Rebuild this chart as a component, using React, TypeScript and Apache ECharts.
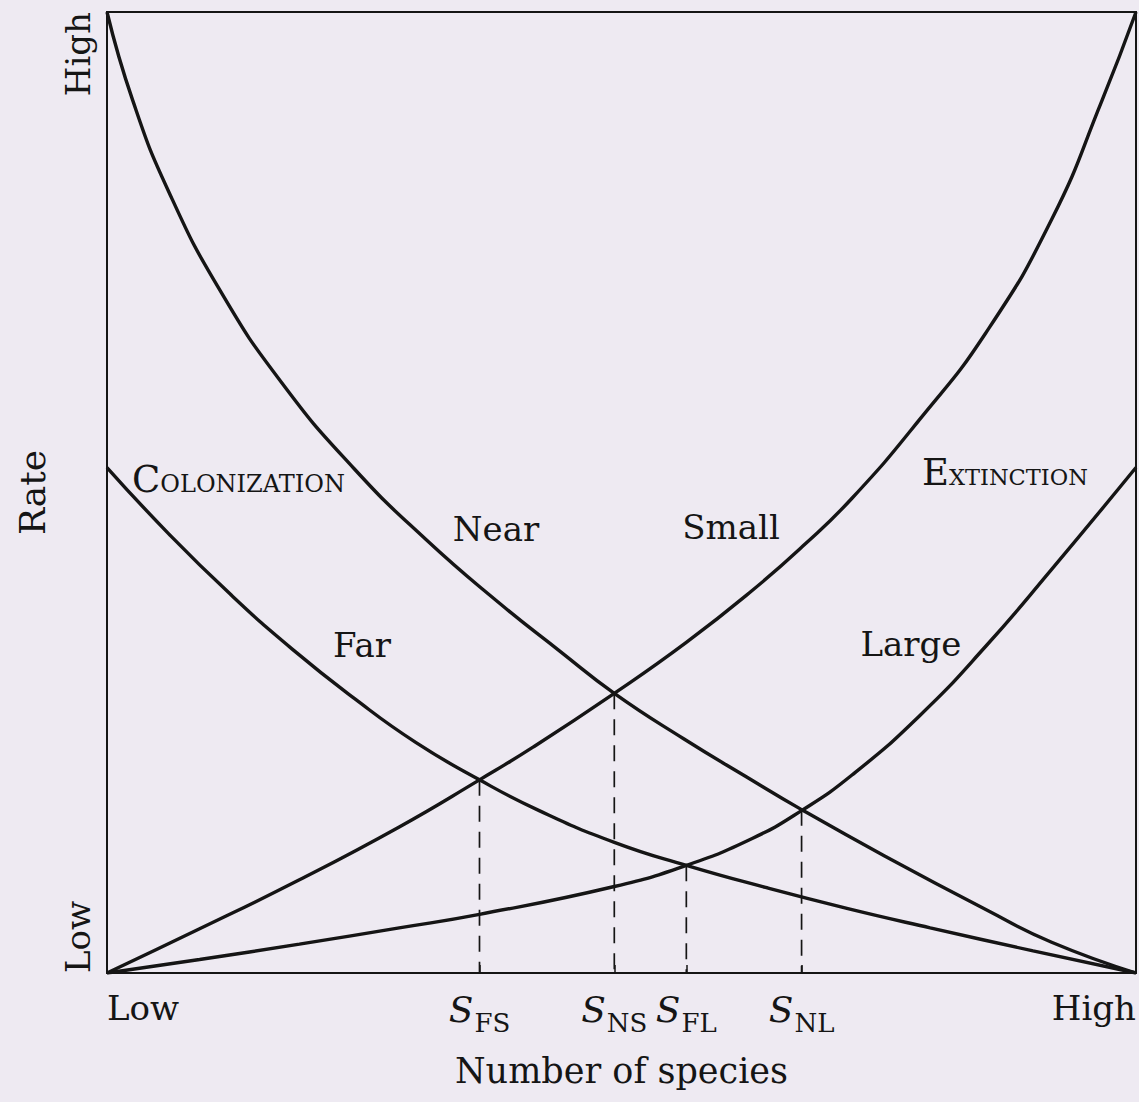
import React, { useEffect, useRef } from 'react';
import * as echarts from 'echarts';

// ---- Data (x: number of species 0..100, y: rate 0..100) ----
const xTickValues = [0, 36.2, 49.3, 56.3, 67.5, 100];
const xTickLabels = ['Low', '{s|S}{sub|FS}', '{s|S}{sub|NS}', '{s|S}{sub|FL}', '{s|S}{sub|NL}', 'High'];
const yTickValues = [0, 100];
const yTickLabels = ['Low', 'High'];

const colonizationNear = [
  [0, 100], [2.5, 90.8], [6, 81.3], [11, 71.0], [17, 61.4], [24, 52.5], [31, 45.1],
  [38, 38.6], [44, 33.5], [49.3, 29.1], [56, 24.4], [62, 20.5], [67.5, 17.0],
  [75.7, 12.1], [85.4, 6.6], [91.8, 3.2], [100, 0],
];
const colonizationFar = [
  [0, 52.6], [6, 45.7], [12, 39.4], [18, 33.7], [24, 28.6], [30, 24.0], [36.2, 20.1],
  [42, 16.9], [49.3, 13.6], [56.3, 11.2], [64, 8.9], [72, 6.7], [80, 4.7], [90, 2.3],
  [100, 0],
];
const extinctionSmall = [
  [0, 0], [9.0, 4.6], [18.7, 9.7], [28.4, 15.2], [36.2, 20.1], [41.4, 23.5],
  [49.3, 29.1], [56.3, 34.4], [62.7, 39.8], [67.6, 44.4], [72.4, 49.4], [78.9, 57.5],
  [85.4, 66.6], [91.8, 78.4], [96.7, 90.8], [100, 100],
];
const extinctionLarge = [
  [0, 0], [9, 1.4], [18.7, 3.0], [28.4, 4.7], [36.2, 6.1], [49.3, 9.0], [56.3, 11.2],
  [62.7, 14.0], [67.5, 16.9], [72.4, 20.6], [78.9, 26.7], [85.4, 34.0], [91.8, 42.0],
  [100, 52.6],
];
const equilibriumX = [36.2, 49.3, 56.3, 67.5];
const equilibriumY = [20.1, 29.1, 11.2, 17.0];

const FONT = '"DejaVu Serif", "Liberation Serif", serif';
const INK = '#151515';

export default function App() {
  const ref = useRef<HTMLDivElement>(null);

  useEffect(() => {
    if (!ref.current) return;
    const chart = echarts.init(ref.current, undefined, { renderer: 'svg' });

    const curve = (data: number[][]) => ({
      type: 'line',
      data,
      smooth: 0.5,
      symbol: 'none',
      silent: true,
      z: 3,
      lineStyle: { color: INK, width: 3.4 },
    });

    const dashed = equilibriumX.map((x, i) => ({
      type: 'line',
      data: [[x, equilibriumY[i]], [x, 0]],
      symbol: 'none',
      silent: true,
      z: 2,
      lineStyle: { color: INK, width: 1.7, type: [16, 10] },
    }));

    const smallCaps = (big: string, rest: string, restSize: number) => ({
      text: `{b|${big}}{c|${rest}}`,
      align: 'left',
      verticalAlign: 'middle',
      fill: INK,
      rich: {
        b: { fontFamily: FONT, fontSize: 37, fill: INK, verticalAlign: 'bottom' },
        c: { fontFamily: FONT, fontSize: restSize, fill: INK, verticalAlign: 'bottom', padding: [0, 0, 2, 0] },
      },
    });

    const word = (text: string) => ({
      text, fontFamily: FONT, fontSize: 34, fill: INK, align: 'center', verticalAlign: 'middle',
    });

    const option: any = {
      animation: false,
      backgroundColor: '#eeeaf2',
      grid: {
        left: 107, top: 12, right: 2, bottom: 129,
        show: true, borderColor: INK, borderWidth: 2, backgroundColor: 'transparent',
      },
      xAxis: {
        type: 'value', min: 0, max: 100,
        name: 'Number of species', nameLocation: 'middle', nameGap: 80,
        nameTextStyle: { fontFamily: FONT, fontSize: 35, color: INK },
        axisLine: { show: true, lineStyle: { color: INK, width: 2 } },
        axisTick: {
          show: true, inside: true, length: 8, customValues: equilibriumX,
          lineStyle: { color: INK, width: 1.5 },
        },
        splitLine: { show: false },
        axisLabel: {
          customValues: xTickValues,
          formatter: (v: number) => {
            const i = xTickValues.findIndex((t) => Math.abs(t - v) < 0.01);
            return i >= 0 ? xTickLabels[i] : '';
          },
          margin: 18, fontFamily: FONT, fontSize: 34, color: INK,
          alignMinLabel: 'left', alignMaxLabel: 'right',
          hideOverlap: false, showMinLabel: true, showMaxLabel: true,
          rich: {
            s: { fontFamily: FONT, fontStyle: 'italic', fontSize: 36, color: INK, verticalAlign: 'top' },
            sub: { fontFamily: FONT, fontSize: 26, color: INK, verticalAlign: 'top', padding: [19, 0, 0, 1] },
          },
        },
      },
      yAxis: {
        type: 'value', min: 0, max: 100,
        name: 'Rate', nameLocation: 'middle', nameGap: 57,
        nameTextStyle: { fontFamily: FONT, fontSize: 36, color: INK },
        axisLine: { show: true, lineStyle: { color: INK, width: 2 } },
        axisTick: { show: false },
        splitLine: { show: false },
        axisLabel: {
          customValues: yTickValues,
          formatter: (v: number) => {
            const i = yTickValues.findIndex((t) => Math.abs(t - v) < 0.01);
            return i >= 0 ? yTickLabels[i] : '';
          },
          rotate: 90, margin: 12, fontFamily: FONT, fontSize: 34, color: INK,
          alignMinLabel: 'left', alignMaxLabel: 'right',
          hideOverlap: false, showMinLabel: true, showMaxLabel: true,
        },
      },
      series: [
        curve(colonizationNear),
        curve(colonizationFar),
        curve(extinctionSmall),
        curve(extinctionLarge),
        ...dashed,
      ],
      graphic: [
        { type: 'text', x: 132, y: 479, silent: true, style: smallCaps('C', 'OLONIZATION', 24) },
        { type: 'text', x: 922, y: 472, silent: true, style: smallCaps('E', 'XTINCTION', 22.5) },
        { type: 'text', x: 496, y: 529, silent: true, style: word('Near') },
        { type: 'text', x: 362, y: 645, silent: true, style: word('Far') },
        { type: 'text', x: 731, y: 527, silent: true, style: word('Small') },
        { type: 'text', x: 911, y: 644, silent: true, style: word('Large') },
      ],
    };

    chart.setOption(option);
    return () => chart.dispose();
  }, []);

  return (
    <div
      ref={ref}
      style={{ position: 'fixed', left: 0, top: 0, width: 1139, height: 1102 }}
    />
  );
}
